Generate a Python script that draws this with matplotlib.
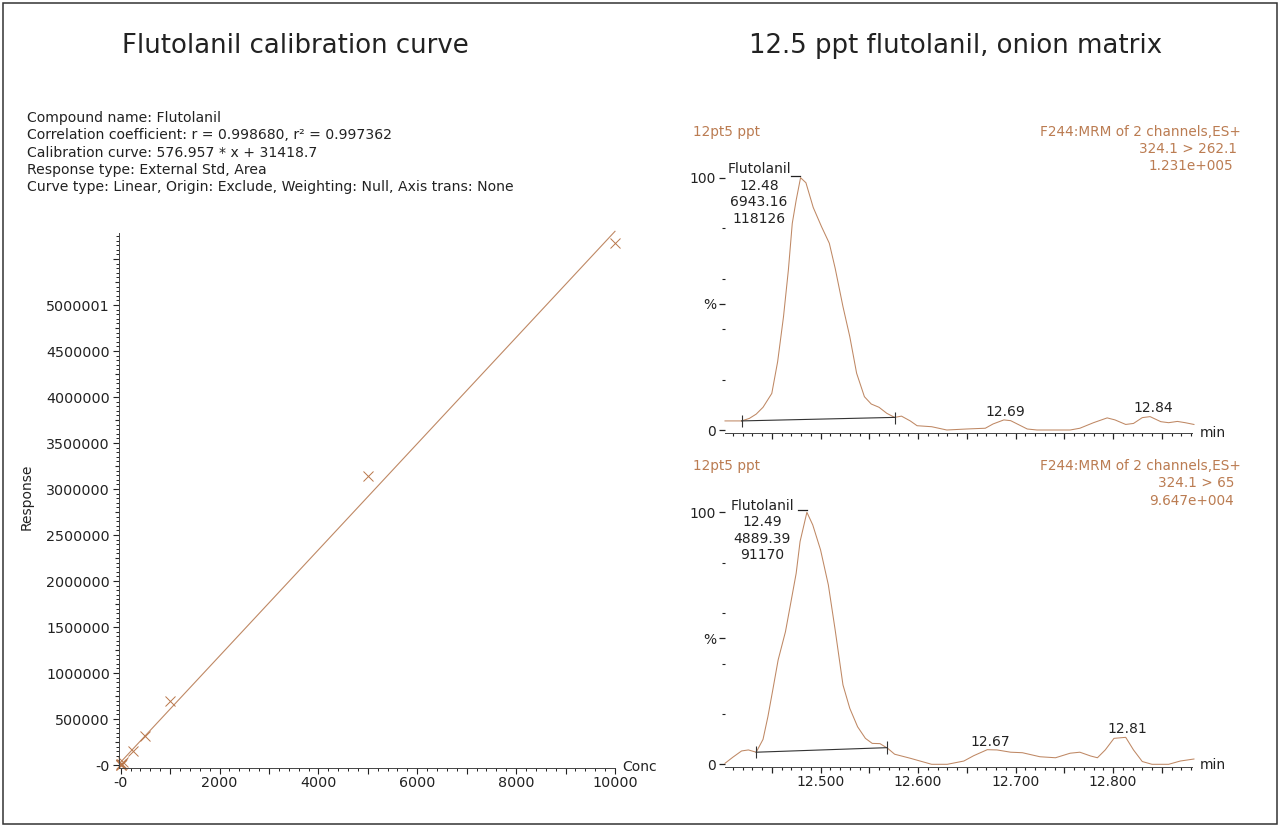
import matplotlib
matplotlib.use('Agg')
import matplotlib.pyplot as plt
from matplotlib.patches import Rectangle
from matplotlib.ticker import MultipleLocator

# calibration curve
conc = [1, 5, 10, 25, 50, 250, 500, 1000, 5000, 10000]
response = [2000, 4000, 8000, 15000, 30000, 150000, 318000, 695000, 3145000, 5674000]
fit_conc = [-30, 10000]
fit_resp = [14100, 5800989]
cal_xticks = list(range(0, 11000, 1000))
cal_xlabels = ['-0', '', '2000', '', '4000', '', '6000', '', '8000', '', '10000']
cal_yticks = list(range(0, 5750000, 250000))
cal_ylabels = ['-0', '', '500000', '', '1000000', '', '1500000', '', '2000000', '', '2500000', '',
               '3000000', '', '3500000', '', '4000000', '', '4500000', '', '5000001', '', '']

info_lines = ['Compound name: Flutolanil',
              'Correlation coefficient: r = 0.998680, r\u00b2 = 0.997362',
              'Calibration curve: 576.957 * x + 31418.7',
              'Response type: External Std, Area',
              'Curve type: Linear, Origin: Exclude, Weighting: Null, Axis trans: None']

# 324.1 > 262.1 trace
top_time = [12.402, 12.419, 12.427, 12.434, 12.441, 12.450, 12.456, 12.462, 12.467, 12.471, 12.475, 12.4795,
            12.485, 12.4925, 12.501, 12.509, 12.515, 12.523, 12.530, 12.537, 12.545, 12.552, 12.560, 12.568,
            12.576, 12.583, 12.592, 12.599, 12.614, 12.6295, 12.650, 12.669, 12.677, 12.688, 12.695, 12.712,
            12.722, 12.756, 12.766, 12.780, 12.794, 12.802, 12.813, 12.821, 12.830, 12.838, 12.849, 12.857,
            12.866, 12.874, 12.883]
top_pct = [3.6, 3.6, 4.6, 6.3, 9.0, 14.5, 27.1, 44.9, 63.4, 81.9, 91.1, 100,
           98.0, 88.2, 80.6, 74.0, 64.1, 48.9, 37.0, 22.5, 13.2, 10.3, 9.0, 6.6,
           5.0, 5.5, 3.6, 1.7, 1.3, 0, 0.4, 0.7, 2.4, 4.0, 3.7, 0.4,
           0, 0, 0.7, 2.9, 4.8, 4.0, 2.2, 2.6, 4.9, 5.3, 3.3, 2.9,
           3.4, 2.9, 2.2]
top_base_time = [12.419, 12.576]
top_base_pct = [3.6, 5.0]
top_base_low = [1.1, 2.4]
top_base_high = [5.9, 7.3]
top_dash_time = [12.470, 12.479]
top_dash_pct = [100.8, 100.8]

# 324.1 > 65 trace
bot_time = [12.402, 12.410, 12.419, 12.426, 12.434, 12.441, 12.446, 12.451, 12.4565, 12.464, 12.470, 12.475,
            12.479, 12.486, 12.492, 12.500, 12.508, 12.515, 12.523, 12.530, 12.538, 12.546, 12.553, 12.561,
            12.569, 12.576, 12.592, 12.614, 12.630, 12.647, 12.657, 12.671, 12.681, 12.695, 12.707, 12.725,
            12.741, 12.756, 12.766, 12.777, 12.784, 12.792, 12.801, 12.813, 12.821, 12.830, 12.840, 12.857,
            12.869, 12.883]
bot_pct = [0.4, 2.8, 5.3, 5.7, 4.8, 9.9, 18.9, 29.5, 41.4, 52.6, 65.2, 75.8,
           88.4, 100, 95.0, 85.1, 71.2, 53.3, 31.5, 22.2, 14.9, 10.3, 8.3, 8.2,
           6.3, 4.0, 2.4, 0, 0, 1.3, 3.4, 5.8, 5.7, 4.8, 4.6, 3.0,
           2.6, 4.4, 4.8, 3.3, 2.6, 5.7, 10.3, 10.7, 5.7, 1.1, 0, 0,
           1.3, 2.1]
bot_base_time = [12.434, 12.568]
bot_base_pct = [4.8, 6.6]
bot_base_low = [2.4, 4.1]
bot_base_high = [7.4, 9.3]
bot_dash_time = [12.477, 12.486]
bot_dash_pct = [100.9, 100.9]

W, H = 1280, 826
ORANGE_LINE = '#bf8864'
ORANGE_TEXT = '#bb7c52'
DARK = '#222222'
FS = 10.3
FS_RIGHT = 10
FS_ORANGE = 9.8

plt.rcParams['font.family'] = 'DejaVu Sans'
fig = plt.figure(figsize=(W / 100, H / 100), dpi=100, facecolor='white')


def px_axes(left, top, right, bottom):
    return fig.add_axes([left / W, 1 - bottom / H, (right - left) / W, (bottom - top) / H])


def px_text(x, y, s, ha='center', color=DARK, size=FS, **kw):
    fig.text(x / W, 1 - y / H, s, ha=ha, va='center', color=color, fontsize=size, **kw)


def style_chrom(ax, show_xlabels):
    ax.set_xlim(12.402, 12.881)
    ax.set_ylim(-1.07, 100)
    for side in ['top', 'right', 'left']:
        ax.spines[side].set_visible(False)
    ax.spines['bottom'].set_linewidth(0.7)
    ax.spines['bottom'].set_color('#444444')
    ax.xaxis.set_major_locator(MultipleLocator(0.05))
    ax.xaxis.set_minor_locator(MultipleLocator(0.01))
    ax.set_yticks([0, 50, 100])
    ax.set_yticklabels(['0', '%', '100'])
    ax.yaxis.set_minor_locator(MultipleLocator(20))
    ax.tick_params(which='major', length=4.5, width=0.9, color='#222222', labelsize=FS_RIGHT,
                   labelcolor=DARK, pad=2)
    ax.tick_params(which='minor', length=2.5, width=0.8, color='#222222')
    ax.tick_params(axis='x', which='major', pad=1.5)
    ticks = ax.get_xticks()
    if show_xlabels:
        labels = []
        for t in ticks:
            if round(t * 100) % 10 == 0 and t > 12.45:
                labels.append(f"{t:.3f}")
            else:
                labels.append('')
    else:
        labels = ['' for t in ticks]
    ax.set_xticks(ticks)
    ax.set_xticklabels(labels)
    ax.set_xlim(12.402, 12.881)


def draw_chrom(ax, time, pct, base_t, base_p, low, high, dash_t, dash_p):
    ax.plot(time, pct, color=ORANGE_LINE, lw=0.75, clip_on=False)
    ax.plot(base_t, base_p, color='#333333', lw=0.8, clip_on=False)
    ax.vlines(base_t, low, high, color='#333333', lw=0.8)
    ax.plot(dash_t, dash_p, color='#222222', lw=0.9, clip_on=False)


# left panel
ax = px_axes(119, 233, 615, 767.5)
ax.set_xlim(-34, 10000)
ax.set_ylim(-27000, 5782600)
ax.plot(fit_conc, fit_resp, color=ORANGE_LINE, lw=0.8, clip_on=False)
ax.plot(conc, response, ls='none', marker='x', ms=6.5, mew=0.7, color='#b9764a', clip_on=False)
for side in ['top', 'right']:
    ax.spines[side].set_visible(False)
for side in ['left', 'bottom']:
    ax.spines[side].set_linewidth(0.7)
    ax.spines[side].set_color('#444444')
ax.set_xticks(cal_xticks)
ax.set_xticklabels(cal_xlabels)
ax.set_yticks(cal_yticks)
ax.set_yticklabels(cal_ylabels)
ax.xaxis.set_minor_locator(MultipleLocator(200))
ax.yaxis.set_minor_locator(MultipleLocator(50000))
ax.tick_params(which='major', width=0.8, color='#222222', labelsize=FS, labelcolor=DARK)
ax.tick_params(which='minor', length=2.2, width=0.7, color='#222222')
ax.tick_params(axis='x', which='major', length=4, pad=1.8)
ax.tick_params(axis='y', which='major', length=4, pad=2.5)
# every second labelled step is a medium tick on the y axis
for i, tick in enumerate(ax.yaxis.get_major_ticks()):
    if i % 2 == 1:
        tick.tick1line.set_markersize(3)

px_text(295, 46, 'Flutolanil calibration curve', size=18.7)
px_text(956, 46, '12.5 ppt flutolanil, onion matrix', size=18.7)
for i, line in enumerate(info_lines):
    px_text(27, 118 + i * 17.3, line, ha='left', size=10.1)
px_text(27, 497, 'Response', rotation=90, size=FS_RIGHT)
px_text(622, 767, 'Conc', ha='left', size=FS_RIGHT)

# right panels
ax_top = px_axes(725, 177.7, 1192, 432.7)
style_chrom(ax_top, False)
draw_chrom(ax_top, top_time, top_pct, top_base_time, top_base_pct, top_base_low, top_base_high,
           top_dash_time, top_dash_pct)

ax_bot = px_axes(725, 512.3, 1192, 767)
style_chrom(ax_bot, True)
draw_chrom(ax_bot, bot_time, bot_pct, bot_base_time, bot_base_pct, bot_base_low, bot_base_high,
           bot_dash_time, bot_dash_pct)

for y0, mrm, peak_ctr in [(132, '324.1 > 262.1', 1188), (466.5, '324.1 > 65', 1196)]:
    px_text(693, y0, '12pt5 ppt', ha='left', color=ORANGE_TEXT, size=FS_ORANGE)
    px_text(1241, y0, 'F244:MRM of 2 channels,ES+', ha='right', color=ORANGE_TEXT, size=FS_ORANGE)
    px_text(peak_ctr, y0 + 17, mrm, color=ORANGE_TEXT, size=FS_ORANGE)
px_text(1191, 166, '1.231e+005', color=ORANGE_TEXT, size=FS_ORANGE)
px_text(1191, 500.5, '9.647e+004', color=ORANGE_TEXT, size=FS_ORANGE)

for i, s in enumerate(['Flutolanil', '12.48', '6943.16', '118126']):
    px_text(759, 169 + i * 16.6, s, size=FS_RIGHT)
for i, s in enumerate(['Flutolanil', '12.49', '4889.39', '91170']):
    px_text(762, 505.5 + i * 16.6, s, size=FS_RIGHT)
px_text(1005.5, 411.5, '12.69', size=FS_RIGHT)
px_text(1153, 408, '12.84', size=FS_RIGHT)
px_text(990, 741.5, '12.67', size=FS_RIGHT)
px_text(1127.5, 729, '12.81', size=FS_RIGHT)
px_text(1200, 433, 'min', ha='left', size=FS_RIGHT)
px_text(1200, 765, 'min', ha='left', size=FS_RIGHT)

# outer frame
fig.add_artist(Rectangle((2.5 / W, 1 - 823.5 / H), 1274.5 / W, 821 / H, transform=fig.transFigure,
                         fill=False, edgecolor='#333333', lw=1.1))

fig.savefig('out.png', dpi=100)
